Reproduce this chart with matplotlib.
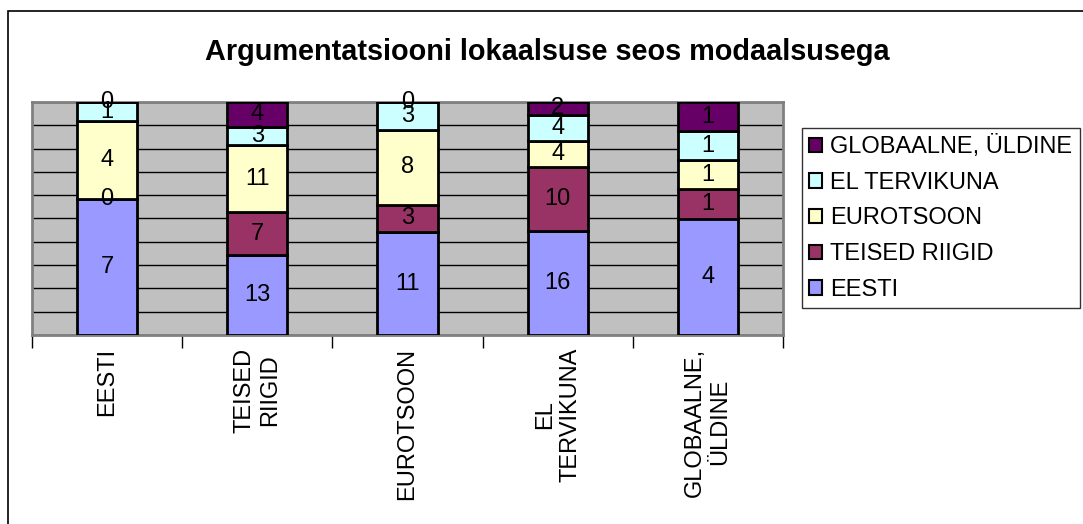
import matplotlib
matplotlib.use("Agg")
import matplotlib.pyplot as plt
import matplotlib.patches as mpatches
import numpy as np

plt.rcParams['font.family'] = ['Liberation Sans', 'DejaVu Sans']

categories = ["EESTI", "TEISED\nRIIGID", "EUROTSOON", "EL\nTERVIKUNA", "GLOBAALNE,\nÜLDINE"]
series_names = ["EESTI", "TEISED RIIGID", "EUROTSOON", "EL TERVIKUNA", "GLOBAALNE, ÜLDINE"]
eesti = [7, 13, 11, 16, 4]
teised = [0, 7, 3, 10, 1]
eurotsoon = [4, 11, 8, 4, 1]
el_tervikuna = [1, 3, 3, 4, 1]
globaalne = [0, 4, 0, 2, 1]
colors = ["#9999FF", "#993366", "#FFFFCC", "#CCFFFF", "#660066"]

# 100% stacked, like the excel original
data = np.array([eesti, teised, eurotsoon, el_tervikuna, globaalne], dtype=float)
pct = data / data.sum(axis=0) * 100

fig = plt.figure(figsize=(10.83, 5.24), dpi=100)
ax = fig.add_axes([32/1083, 1-335/524, (783-32)/1083, (335-102)/524])
ax.set_facecolor("#C0C0C0")

x = np.arange(len(categories))
bottom = np.zeros(len(categories))
for i in range(len(series_names)):
    ax.bar(x, pct[i], 0.4, bottom=bottom, color=colors[i], edgecolor="black",
           linewidth=2, label=series_names[i], zorder=3)
    for j in range(len(categories)):
        ax.text(x[j], bottom[j] + pct[i][j]/2, "%d" % data[i][j], ha="center", va="center",
                fontsize=17, color="black", zorder=4)
    bottom += pct[i]

ax.set_xlim(-0.5, len(categories)-0.5)
ax.set_ylim(0, 100)
ax.set_yticks(np.arange(0, 101, 10))
ax.yaxis.grid(True, color="black", linewidth=1, zorder=1)
ax.tick_params(axis="y", left=False, labelleft=False)

ax.set_xticks(x)
ax.set_xticklabels(categories, rotation=90, va="top", ha="center", multialignment="center", fontsize=17)
ax.tick_params(axis="x", which="major", length=0, pad=9)
ax.set_xticks(np.arange(-0.5, len(categories), 1), minor=True)
ax.tick_params(axis="x", which="minor", length=9, width=1, color="black", direction="out")

for s in ax.spines.values():
    s.set_color("#808080")
    s.set_linewidth(2)

fig.text(547/1083, 1-52/524, "Argumentatsiooni lokaalsuse seos modaalsusega",
         fontsize=20.8, fontweight="bold", ha="center", va="center")

handles = [mpatches.Patch(facecolor=colors[i], edgecolor="black", linewidth=1.5) for i in range(len(series_names))][::-1]
leg = fig.legend(handles, series_names[::-1], loc="upper left", bbox_to_anchor=(802/1083, 1-128/524),
                 fontsize=17, frameon=True, fancybox=False, handlelength=0.55, handleheight=0.55,
                 handletextpad=0.35, labelspacing=0.58, borderpad=0.3, borderaxespad=0)
leg.get_frame().set_edgecolor("black")
leg.get_frame().set_linewidth(1)

border = mpatches.Rectangle((8/1083, -0.1), 1.2, 1.1 - 11/524, transform=fig.transFigure,
                            fill=False, edgecolor="black", linewidth=1.2)
fig.patches.append(border)

fig.savefig("out.png", dpi=100, facecolor="white")
